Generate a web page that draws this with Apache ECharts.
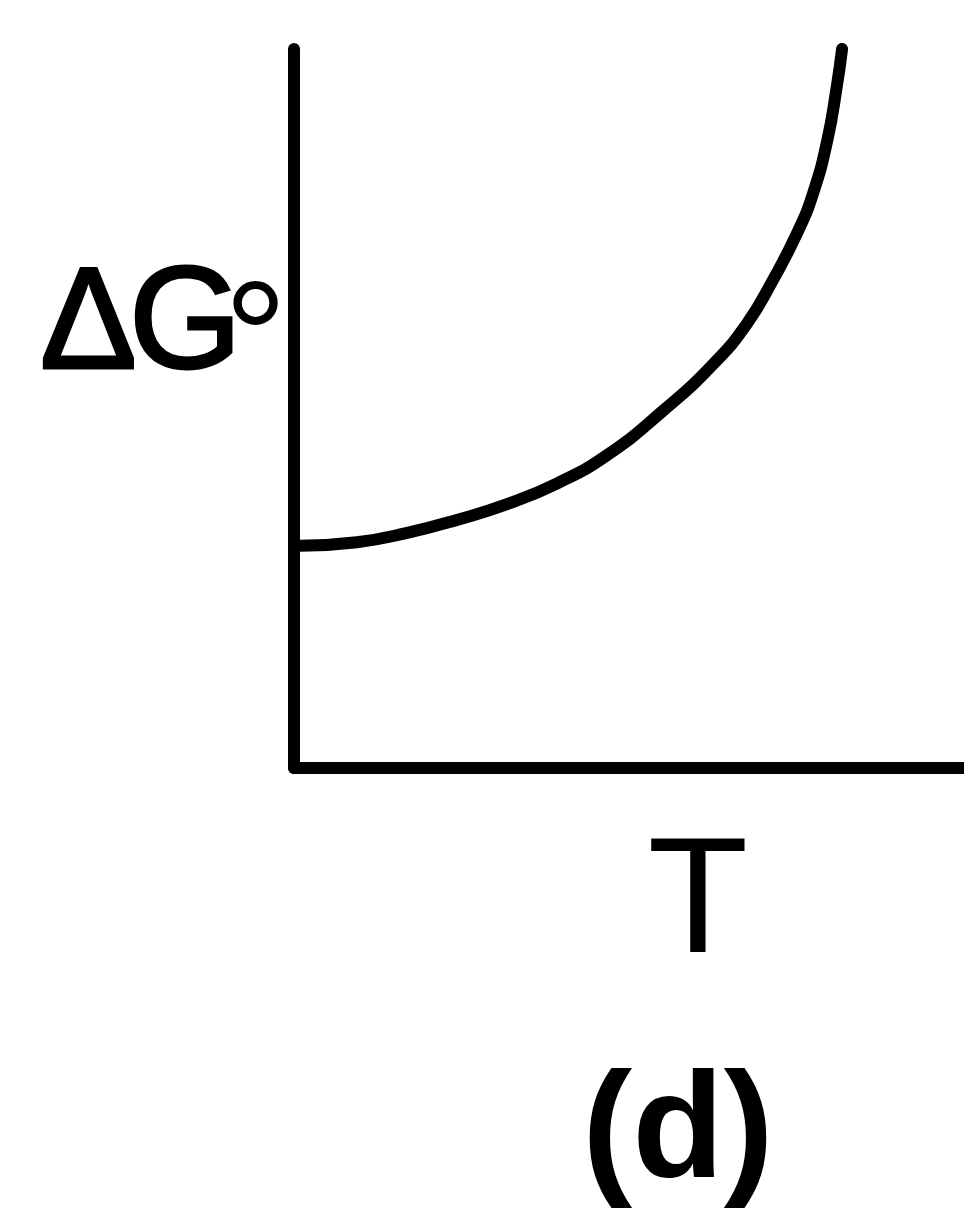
<!DOCTYPE html>
<html>
<head>
<meta charset="utf-8">
<script src="https://cdn.jsdelivr.net/npm/echarts@6/dist/echarts.min.js"></script>
<style>
  html, body { margin: 0; padding: 0; background: #fff; }
  #main { width: 964px; height: 1213px; }
</style>
</head>
<body>
<div id="main"></div>
<script>
// curve data (T, ΔG°) in arbitrary units, axes run 0..100
var tValues = [0.9, 9.4, 16.9, 24.3, 31.8, 39.3, 46.7, 55.1, 62.5, 67.6, 71.5, 75.1, 77.5, 79.6, 81.0, 81.8];
var gValues = [30.9, 31.4, 32.7, 34.5, 36.7, 39.6, 43.5, 49.7, 56.1, 61.8, 67.9, 74.4, 80.0, 87.3, 94.7, 100];
var deltaLabel = 'Δ';
var gLabel = 'G';
var degLabel = '°';
var xLabel = 'T';
var panelLabel = '(d)';

var chart = echarts.init(document.getElementById('main'));

var curve = [];
for (var i = 0; i < tValues.length; i++) {
  curve.push([tValues[i], gValues[i]]);
}

var axisStyle = {
  show: true,
  lineStyle: { color: '#000', width: 12, cap: 'round' }
};
var sans = '"Liberation Sans", Arial, sans-serif';

var option = {
  animation: false,
  backgroundColor: '#fff',
  grid: { left: 294, right: 0, top: 49, bottom: 445 },
  xAxis: {
    type: 'value', min: 0, max: 100,
    axisLine: axisStyle,
    axisTick: { show: false },
    axisLabel: { show: false },
    splitLine: { show: false }
  },
  yAxis: {
    type: 'value', min: 0, max: 100,
    axisLine: axisStyle,
    axisTick: { show: false },
    axisLabel: { show: false },
    splitLine: { show: false }
  },
  graphic: [
    {
      type: 'text', x: 40, y: 328,
      style: { text: deltaLabel, font: '145px ' + sans, fill: '#000', stroke: '#000', lineWidth: 3, textAlign: 'left', textVerticalAlign: 'middle' }
    },
    {
      type: 'text', x: 129, y: 328,
      style: { text: gLabel, font: '145px ' + sans, fill: '#000', stroke: '#000', lineWidth: 3, textAlign: 'left', textVerticalAlign: 'middle' }
    },
    {
      type: 'text', x: 224, y: 347,
      style: { text: degLabel, font: '158px ' + sans, fill: '#000', textAlign: 'left', textVerticalAlign: 'middle' }
    },
    {
      type: 'text', x: 698, y: 906,
      style: { text: xLabel, font: '165px ' + sans, fill: '#000', textAlign: 'center', textVerticalAlign: 'middle' }
    },
    {
      type: 'text', x: 678, y: 1136,
      style: { text: panelLabel, font: 'bold 150px ' + sans, fill: '#000', textAlign: 'center', textVerticalAlign: 'middle' }
    }
  ],
  series: [{
    type: 'line',
    data: curve,
    smooth: 0.5,
    showSymbol: false,
    lineStyle: { color: '#000', width: 12, cap: 'round' }
  }]
};

chart.setOption(option);
</script>
</body>
</html>
